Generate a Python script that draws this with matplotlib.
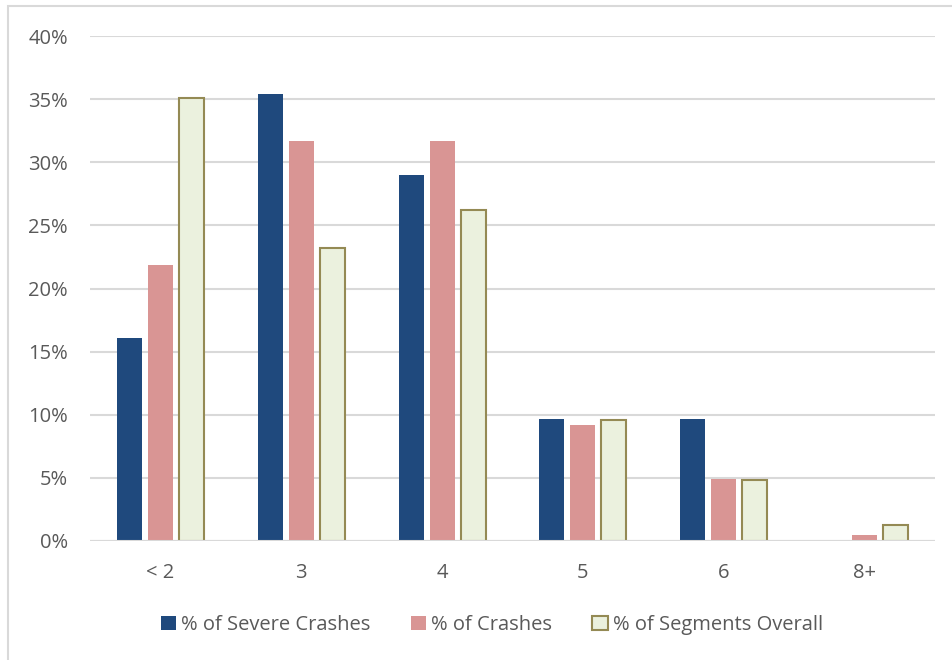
import matplotlib
matplotlib.use("Agg")
import matplotlib.pyplot as plt
from matplotlib.patches import Rectangle
import numpy as np

categories = ["< 2", "3", "4", "5", "6", "8+"]
severe = [16.1, 35.4, 29.0, 9.7, 9.7, 0.0]
crashes = [21.9, 31.7, 31.7, 9.2, 4.9, 0.5]
segments = [35.1, 23.2, 26.2, 9.6, 4.8, 1.25]
y_ticks = [0, 5, 10, 15, 20, 25, 30, 35, 40]

plt.rcParams['font.family'] = ['Open Sans', 'DejaVu Sans']
txt = '#595959'

fig = plt.figure(figsize=(9.53, 6.6), dpi=100)
ax = fig.add_axes([90/953, 1 - 541/660, (935-90)/953, (541-36)/660])

# outer chart border (only left/top visible in the crop)
fig.patches.append(Rectangle((8/953, -0.1), 1.2, 1 - 6/660 + 0.1, transform=fig.transFigure,
                             fill=False, edgecolor='#d9d9d9', linewidth=1.5))

x = np.arange(len(categories))
w = 0.178
step = 0.22
ax.bar(x - step, severe, w, color='#1f497d', label='% of Severe Crashes', zorder=3)
ax.bar(x, crashes, w, color='#d99594', label='% of Crashes', zorder=3)
ax.bar(x + step, segments, w, color='#ebf1de', edgecolor='#948a54', linewidth=1.5,
       label='% of Segments Overall', zorder=3)

ax.set_xlim(-0.5, len(categories) - 0.5)
ax.set_ylim(0, 40)
ax.set_yticks(y_ticks)
ax.set_yticklabels([f"{t}%" for t in y_ticks])
ax.set_xticks(x)
ax.set_xticklabels(categories)
ax.tick_params(length=0, labelsize=14.5, colors=txt)
ax.tick_params(axis='y', pad=16)
ax.tick_params(axis='x', pad=16)
ax.grid(axis='y', color='#d9d9d9', linewidth=1.5, zorder=0)
for s in ax.spines.values():
    s.set_visible(False)
ax.axhline(0, color='#d9d9d9', linewidth=1.5, zorder=4)

leg = fig.legend(loc='center', bbox_to_anchor=(492/953, 1 - 625/660), ncol=3, frameon=False,
                 fontsize=14.5, handlelength=0.75, handleheight=0.75, handletextpad=0.25,
                 columnspacing=2.0)
for t in leg.get_texts():
    t.set_color(txt)

fig.savefig('out.png', dpi=100)
